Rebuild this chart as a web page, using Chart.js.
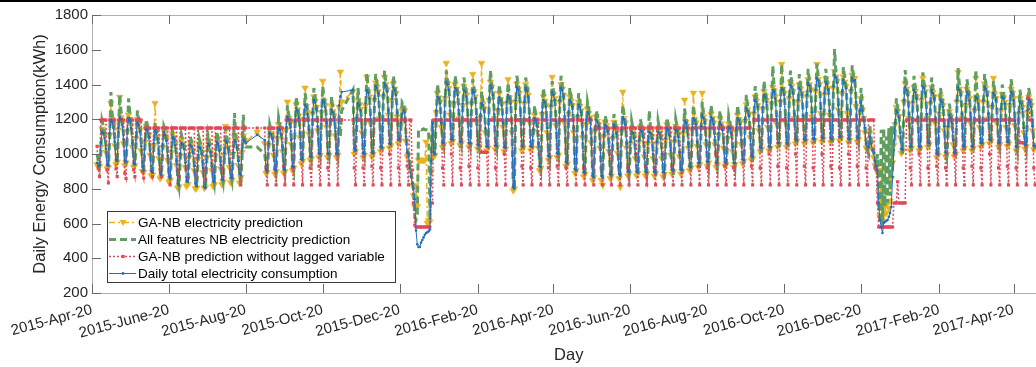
<!DOCTYPE html>
<html>
<head>
<meta charset="utf-8">
<script src="https://cdn.jsdelivr.net/npm/chart.js@4.4.1/dist/chart.umd.min.js"></script>
<style>
  html, body { margin: 0; padding: 0; background: #fff; overflow: hidden; }
  #wrap { width: 1036px; height: 367px; overflow: hidden; }
  canvas { display: block; }
</style>
</head>
<body>
<div id="wrap"><canvas id="chart" width="1050" height="367" style="width:1050px;height:367px"></canvas></div>
<script>
// x = day number counted from 2015-04-20 (a Monday); one row = one week Mon..Sun
const tickDays   = [0, 61, 122, 183, 244, 306, 366, 427, 488, 549, 610, 672, 731];
const tickLabels = ['2015-Apr-20', '2015-June-20', '2015-Aug-20', '2015-Oct-20', '2015-Dec-20',
  '2016-Feb-20', '2016-Apr-20', '2016-Jun-20', '2016-Aug-20', '2016-Oct-20', '2016-Dec-20',
  '2017-Feb-20', '2017-Apr-20'];
const yTickValues = [200, 400, 600, 800, 1000, 1200, 1400, 1600, 1800];
const X_MAX_DAY = 756.3;

const seriesNames = [
  'GA-NB electricity prediction',
  'All features NB electricity prediction',
  'GA-NB prediction without lagged variable',
  'Daily total electricity consumption',
];

// Daily total electricity consumption (kWh)
const actual = [
  null,null,null,null,950,930,937,
  1063,1127,1120,1090,1030,940,932,
  1120,1196,1185,1150,1070,968,960,
  1150,1213,1200,1165,1085,962,955,
  1140,1207,1195,1150,1060,950,942,
  1100,1180,1168,1128,1045,928,905,
  1080,1142,1135,1098,1018,902,892,
  1062,1138,1122,1088,1000,890,880,
  1050,1127,1110,1078,990,870,862,
  1020,1098,1088,1050,960,830,822,
  1000,1063,1055,1030,950,845,839,
  990,1052,1045,1010,930,830,815,
  980,1040,1035,1000,920,810,804,
  990,1060,1050,1010,930,845,839,
  1000,1070,1060,1020,940,855,850,
  1005,1075,1065,1030,950,865,862,
  1010,1080,1070,1035,960,885,880,
  1020,1085,1075,1063,null,null,null,
  null,null,null,null,null,1110,null,
  null,null,null,null,1080,910,900,
  1060,1120,1115,1090,1020,910,905,
  1100,1150,1140,1110,1040,915,908,
  1150,1213,1200,1170,1080,930,925,
  1190,1265,1250,1210,1120,970,966,
  1210,1282,1270,1230,1140,990,983,
  1240,1311,1300,1260,1160,1005,1000,
  1250,1311,1300,1270,1180,1005,1000,
  1200,1253,1240,1210,1130,1005,1000,
  1280,1330,1357,null,null,null,null,
  null,null,null,null,1368,1030,1020,
  1210,1293,1280,1250,1150,1005,1000,
  1290,1368,1355,1320,1200,1010,1006,
  1320,1390,1380,1350,1230,1040,1035,
  1340,1408,1395,1360,1250,1060,1058,
  1320,1386,1370,1340,1240,1085,1080,
  1180,1230,1253,1240,1100,1010,1000,
  920,870,830,800,740,560,480,
  465,465,490,505,520,535,545,
  550,555,565,960,1180,1010,1000,
  1250,1330,1320,1290,1180,1065,1063,
  1330,1414,1400,1370,1250,1085,1080,
  1300,1380,1370,1340,1230,1075,1070,
  1290,1368,1360,1330,1220,1065,1060,
  1300,1368,1355,1320,1210,1055,1050,
  1220,1293,1280,1250,1150,1045,1040,
  1320,1397,1380,1340,1230,1050,1045,
  1260,1328,1310,1280,1180,1040,1035,
  1300,1340,1320,1290,1150,810,804,
  1310,1386,1370,1340,1220,1045,1040,
  1300,1380,1365,1330,1210,1045,1040,
  1140,1207,1195,1160,1060,930,925,
  1240,1311,1300,1270,1150,990,983,
  1280,1357,1340,1310,1190,1005,1000,
  1310,1380,1370,1330,1200,955,948,
  1240,1311,1300,1270,1150,915,908,
  1220,1282,1270,1240,1120,895,891,
  1180,1242,1230,1200,1090,875,868,
  1140,1196,1185,1160,1060,875,868,
  1110,1167,1160,1130,1040,885,880,
  1100,1167,1155,1120,1030,885,880,
  1140,1213,1200,1170,1060,900,897,
  1070,1127,1120,1090,1000,900,895,
  1080,1138,1130,1100,1010,900,895,
  1070,1127,1120,1090,1000,898,893,
  1070,1127,1118,1090,1000,895,891,
  1090,1150,1140,1110,1020,910,905,
  1080,1140,1130,1100,1010,910,908,
  1130,1190,1180,1150,1060,930,925,
  1150,1207,1195,1170,1070,950,948,
  1160,1225,1210,1180,1080,955,954,
  1150,1213,1200,1170,1080,950,948,
  1120,1185,1170,1140,1060,955,948,
  1100,1156,1150,1120,1040,950,948,
  1140,1207,1195,1170,1080,970,966,
  1200,1265,1250,1220,1120,990,983,
  1240,1311,1300,1270,1160,1040,1035,
  1270,1340,1330,1300,1180,1045,1040,
  1300,1368,1360,1320,1200,1065,1063,
  1310,1380,1370,1340,1210,1065,1060,
  1330,1397,1385,1350,1230,1085,1080,
  1310,1380,1370,1340,1220,1085,1080,
  1340,1409,1395,1360,1240,1090,1085,
  1370,1437,1425,1390,1260,1095,1092,
  1350,1414,1400,1370,1250,1090,1085,
  1390,1455,1440,1410,1280,1100,1098,
  1360,1426,1410,1380,1260,1090,1085,
  1370,1437,1420,1426,1300,1095,1090,
  1250,1300,1250,1196,1150,1060,1040,
  1040,1100,1060,1020,1006,960,930,
  908,718,620,580,545,603,610,
  615,620,638,660,695,868,1023,
  1180,1250,1240,1210,1121,1030,1023,
  1310,1386,1370,1340,1230,1045,1040,
  1300,1368,1355,1320,1210,1045,1040,
  1320,1390,1380,1350,1230,1065,1063,
  1300,1368,1350,1320,1200,1005,1000,
  1240,1311,1300,1270,1160,1010,1006,
  1160,1225,1210,1180,1080,1010,1006,
  1310,1386,1370,1340,1230,1045,1040,
  1290,1357,1345,1310,1200,1045,1040,
  1260,1328,1320,1290,1180,1065,1063,
  1310,1386,1375,1340,1230,1085,1080,
  1280,1351,1340,1310,1200,1065,1063,
  1260,1328,1320,1290,1180,1070,1069,
  1290,1357,1345,1310,1190,1045,1040,
  1240,1300,1290,1260,1150,1055,1052,
  1250,1311,1300,1270,1160,1050,1045,
];

// GA-NB electricity prediction (kWh)
const gaNbPred = [
  null,null,null,null,940,925,930,
  1040,1145,1130,1110,1010,915,925,
  1110,1293,1200,1170,1050,940,955,
  1140,1328,1210,1180,1060,935,950,
  1130,1225,1200,1165,1040,925,935,
  1090,1200,1175,1140,1020,900,895,
  1070,1160,1140,1110,995,875,880,
  1050,1293,1130,1100,975,860,870,
  1040,1145,1120,1090,965,840,850,
  1010,1115,1095,1060,935,805,812,
  990,1080,1060,1040,925,815,825,
  980,1070,1050,1020,905,800,805,
  970,1060,1040,1010,895,804,810,
  980,1080,1055,1020,905,815,825,
  990,1090,1065,1030,915,825,840,
  995,1160,1070,1040,925,835,850,
  1000,1100,1075,1045,935,833,865,
  1010,1105,1080,1070,null,null,null,
  null,null,null,null,null,1127,null,
  null,null,null,null,1060,890,895,
  1050,1140,1120,1100,995,885,900,
  1090,1170,1145,1120,1015,890,900,
  1140,1300,1205,1180,1055,905,920,
  1180,1285,1255,1220,1095,945,960,
  1200,1380,1275,1240,1115,965,975,
  1230,1330,1305,1270,1135,980,995,
  1240,1420,1305,1280,1155,980,995,
  1190,1275,1245,1220,1105,980,995,
  1270,1472,1300,null,null,null,null,
  null,null,null,null,1360,1000,1015,
  1200,1310,1285,1260,1125,980,995,
  1280,1443,1360,1330,1175,985,1000,
  1310,1410,1385,1360,1205,1015,1030,
  1330,1443,1400,1370,1225,1035,1050,
  1310,1405,1375,1350,1215,1060,1075,
  1170,1250,1260,1250,1075,985,995,
  950,900,820,760,700,820,700,
  965,965,965,965,965,965,1070,
  603,620,610,900,1100,985,995,
  1240,1350,1325,1300,1155,1040,1055,
  1320,1523,1405,1380,1225,1060,1075,
  1290,1400,1375,1350,1205,1050,1065,
  1280,1390,1365,1340,1195,1040,1055,
  1290,1460,1360,1330,1185,1030,1045,
  1210,1523,1285,1260,1125,1020,1035,
  1310,1415,1385,1350,1205,1025,1040,
  1250,1350,1315,1290,1155,1015,1030,
  1290,1430,1325,1300,1125,790,800,
  1300,1405,1375,1350,1195,1020,1035,
  1290,1400,1370,1340,1185,1020,1035,
  1130,1225,1200,1170,1035,905,920,
  1230,1330,1305,1280,1125,965,980,
  1270,1443,1345,1320,1165,980,995,
  1300,1400,1375,1340,1175,930,945,
  1230,1330,1305,1280,1125,890,905,
  1210,1300,1275,1250,1095,870,885,
  1170,1260,1235,1210,1065,850,865,
  1130,1215,1190,1170,1035,850,822,
  1100,1185,1165,1140,1015,860,875,
  1090,1185,1160,1130,1005,860,810,
  1130,1357,1205,1180,1035,875,890,
  1060,1145,1125,1100,975,875,890,
  1070,1155,1135,1110,985,875,890,
  1060,1145,1125,1100,975,873,888,
  1060,1145,1123,1100,975,870,885,
  1080,1170,1145,1120,995,885,900,
  1070,1160,1135,1110,985,885,900,
  1120,1311,1185,1160,1035,905,920,
  1140,1351,1200,1180,1045,925,940,
  1150,1351,1215,1190,1055,930,950,
  1140,1230,1205,1180,1055,925,940,
  1110,1205,1175,1150,1035,930,940,
  1090,1175,1155,1130,1015,925,940,
  1130,1225,1200,1180,1055,945,960,
  1190,1285,1255,1230,1095,965,975,
  1230,1330,1305,1280,1135,1015,1030,
  1260,1360,1335,1310,1155,1020,1035,
  1290,1385,1365,1330,1175,1040,1055,
  1300,1517,1375,1350,1185,1040,1055,
  1320,1415,1390,1360,1205,1060,1075,
  1300,1400,1375,1350,1195,1060,1075,
  1330,1430,1400,1370,1215,1065,1080,
  1360,1517,1430,1400,1235,1070,1085,
  1340,1435,1405,1380,1225,1065,1080,
  1380,1475,1445,1420,1255,1075,1090,
  1350,1445,1415,1390,1235,1065,1080,
  1360,1455,1425,1436,1275,1070,1085,
  1240,1320,1255,1206,1125,1035,1035,
  1030,1120,1065,1030,980,935,925,
  900,780,640,908,620,650,700,
  660,720,690,730,860,950,1050,
  1170,1270,1245,1220,1096,1005,1020,
  1300,1405,1375,1350,1205,1020,1035,
  1290,1385,1360,1330,1185,1020,1035,
  1310,1437,1385,1360,1205,1040,1055,
  1290,1385,1355,1330,1175,980,995,
  1230,1330,1305,1280,1135,985,1000,
  1150,1245,1215,1190,1055,985,1000,
  1300,1471,1375,1350,1205,1020,1035,
  1280,1375,1350,1320,1175,1020,1035,
  1250,1437,1325,1300,1155,1040,1055,
  1300,1405,1380,1350,1205,1060,1075,
  1270,1437,1345,1320,1175,1040,1055,
  1250,1345,1325,1300,1155,1045,1060,
  1280,1375,1350,1320,1165,1020,1035,
  1230,1320,1295,1270,1125,1030,1045,
  1240,1330,1305,1280,1135,1025,1040,
];

// All features NB electricity prediction (kWh)
const allFeatPred = [
  null,null,null,null,1000,960,930,
  1000,1190,1160,1120,1060,980,925,
  1080,1357,1230,1180,1100,1010,950,
  1120,1340,1250,1190,1110,1000,940,
  1100,1320,1240,1170,1090,990,930,
  1060,1250,1200,1150,1070,960,900,
  1040,1200,1160,1120,1040,930,880,
  1020,1180,1150,1100,1020,920,870,
  1000,1160,1140,1090,1010,900,850,
  980,1130,1110,1070,980,860,815,
  960,1110,1080,1050,970,870,830,
  950,1100,1070,1030,950,860,810,
  940,1090,1060,1020,940,840,800,
  950,1110,1075,1030,950,870,830,
  960,1130,1090,1040,960,880,840,
  970,1150,1100,1050,970,890,850,
  975,1236,1110,1060,980,905,822,
  985,1225,1100,1040,null,null,null,
  null,null,null,null,null,1040,null,
  null,null,null,null,1000,930,890,
  1020,1170,1140,1110,1040,935,895,
  1060,1210,1170,1130,1060,940,900,
  1100,1280,1230,1190,1100,955,915,
  1140,1330,1280,1230,1140,995,955,
  1160,1350,1300,1250,1160,1015,975,
  1190,1380,1330,1280,1180,1030,990,
  1200,1390,1330,1290,1200,1030,990,
  1150,1330,1270,1230,1150,1030,990,
  1230,1100,1250,null,null,null,null,
  null,null,null,null,1370,1060,1010,
  1160,1380,1300,1270,1170,1030,990,
  1240,1466,1380,1340,1220,1040,995,
  1270,1460,1410,1370,1250,1070,1025,
  1290,1480,1420,1380,1270,1090,1045,
  1270,1450,1400,1360,1260,1110,1070,
  1130,1300,1290,1260,1120,1040,990,
  960,900,850,800,640,620,640,
  1140,1145,1140,1140,1145,1140,1140,
  1140,1140,620,980,1200,1040,990,
  1200,1400,1350,1310,1200,1090,1050,
  1280,1480,1430,1390,1270,1110,1065,
  1250,1450,1400,1360,1250,1100,1060,
  1240,1440,1390,1350,1240,1090,1050,
  1250,1430,1385,1340,1230,1080,1040,
  1170,1360,1310,1270,1170,1070,1030,
  1270,1480,1410,1360,1250,1075,1035,
  1210,1400,1340,1300,1200,1065,1025,
  1250,1410,1350,1310,1170,840,790,
  1260,1450,1400,1360,1240,1070,1030,
  1250,1440,1395,1350,1230,1070,1030,
  1090,1280,1225,1180,1080,955,915,
  1190,1380,1330,1290,1170,1015,975,
  1230,1420,1370,1330,1210,1030,990,
  1260,1450,1400,1350,1220,980,935,
  1190,1380,1330,1290,1170,940,895,
  1170,1350,1300,1260,1140,920,880,
  1130,1300,1260,1220,1110,900,855,
  1090,1250,1215,1180,1080,900,855,
  1060,1220,1190,1150,1060,910,865,
  1050,1230,1185,1140,1050,910,865,
  1090,1280,1230,1190,1080,925,880,
  1020,1190,1150,1110,1020,925,880,
  1030,1200,1160,1120,1030,925,880,
  1020,1250,1150,1110,1020,920,870,
  1020,1190,1150,1110,1020,915,860,
  1040,1210,1170,1130,1040,930,880,
  1030,1200,1160,1120,1030,930,885,
  1080,1260,1210,1170,1080,950,900,
  1100,1280,1225,1190,1090,970,920,
  1110,1300,1240,1200,1100,975,930,
  1100,1280,1230,1190,1100,970,925,
  1070,1250,1200,1160,1080,975,925,
  1050,1220,1180,1140,1060,970,925,
  1090,1280,1225,1190,1100,990,940,
  1150,1340,1280,1240,1140,1010,960,
  1190,1390,1330,1290,1180,1060,1010,
  1220,1420,1360,1320,1200,1065,1020,
  1250,1506,1390,1340,1220,1085,1040,
  1260,1517,1400,1360,1230,1085,1040,
  1280,1480,1415,1370,1250,1105,1060,
  1260,1460,1400,1360,1240,1105,1060,
  1290,1490,1425,1380,1260,1110,1065,
  1320,1520,1455,1410,1280,1115,1070,
  1300,1490,1430,1390,1270,1110,1065,
  1340,1604,1470,1430,1300,1120,1075,
  1310,1500,1440,1400,1280,1110,1065,
  1320,1510,1450,1440,1320,1115,1070,
  1200,1380,1280,1220,1170,1080,1020,
  1000,1160,1090,1040,1020,980,910,
  1000,720,600,1140,590,1150,700,
  1100,720,1150,760,1160,900,1167,
  1130,1320,1270,1230,1140,1050,1000,
  1260,1483,1400,1360,1250,1065,1020,
  1250,1450,1385,1340,1230,1065,1020,
  1270,1470,1410,1370,1250,1085,1040,
  1250,1440,1380,1340,1220,1025,980,
  1190,1380,1330,1290,1180,1030,985,
  1110,1290,1240,1200,1100,1030,985,
  1260,1494,1400,1360,1250,1065,1020,
  1240,1430,1375,1330,1220,1065,1020,
  1210,1483,1350,1310,1200,1085,1040,
  1260,1460,1405,1360,1250,1105,1060,
  1230,1420,1370,1330,1220,1085,1040,
  1210,1400,1350,1310,1200,1090,1045,
  1240,1430,1375,1330,1210,1065,1020,
  1190,1370,1320,1280,1170,1075,1030,
  1200,1380,1330,1290,1180,1070,1025,
];

// GA-NB prediction without lagged variable (kWh)
const noLagPred = [
  null,null,null,null,1045,915,870,
  1196,1196,1196,1196,1196,908,833,
  1196,1196,1196,1196,1196,915,870,
  1196,1196,1196,1196,1196,890,860,
  1196,1196,1196,1196,1196,908,870,
  1196,1196,1196,1196,1196,900,862,
  1150,1150,1150,1150,1150,905,870,
  1150,1150,1150,1150,1150,910,868,
  1150,1150,1150,1150,1150,900,822,
  1150,1150,1150,1150,1150,905,870,
  1150,1150,1150,1150,1150,915,865,
  1150,1150,1150,1150,1150,900,860,
  1150,1150,1150,1150,1150,910,855,
  1150,1150,1150,1150,1150,905,870,
  1150,1150,1150,1150,1150,920,868,
  1150,1150,1150,1150,1150,908,862,
  1150,1150,1150,1150,1150,915,822,
  1150,1150,1150,1150,null,null,null,
  null,null,null,null,null,1150,null,
  null,null,null,null,1150,920,822,
  1150,1150,1150,1150,1150,920,822,
  1150,1150,1150,1150,1150,930,822,
  1196,1196,1196,1196,1196,920,822,
  1196,1196,1196,1196,1196,1000,822,
  1196,1196,1196,1196,1196,920,822,
  1196,1196,1196,1196,1196,930,822,
  1196,1196,1196,1196,1196,920,822,
  1196,1196,1196,1196,1196,1000,822,
  1196,1196,1196,null,null,null,null,
  null,null,null,null,1196,920,822,
  1196,1196,1196,1196,1196,920,822,
  1196,1196,1196,1196,1196,930,822,
  1196,1196,1196,1196,1196,920,822,
  1196,1196,1196,1196,1196,1000,822,
  1196,1196,1196,1196,1196,920,822,
  1196,1196,1196,1196,1196,930,822,
  1196,1196,908,718,591,580,580,
  580,580,580,580,580,580,580,
  580,580,580,718,718,1196,1196,
  1196,1196,1196,1196,1196,920,822,
  1196,1196,1196,1196,1196,1000,822,
  1196,1196,1196,1196,1196,920,822,
  1196,1196,1196,1196,1196,930,822,
  1196,1196,1196,1196,1196,920,822,
  1196,1010,1010,1010,1010,1010,822,
  1196,1196,1196,1196,1196,920,822,
  1196,1196,1196,1196,1196,1000,822,
  1196,1196,1196,1196,1196,920,822,
  1196,1196,1196,1196,1196,930,822,
  1196,1196,1196,1196,1196,920,822,
  1196,1196,1196,1196,1196,1000,822,
  1196,1196,1196,1196,1196,920,822,
  1196,1196,1196,1196,1196,930,822,
  1196,1196,1196,1196,1196,920,822,
  1196,1196,1196,1196,1196,1000,822,
  1196,1196,1196,1196,1196,920,822,
  1196,1196,1196,1196,1196,930,822,
  1150,1150,1150,1150,1150,920,822,
  1150,1150,1150,1150,1150,1000,822,
  1150,1150,1150,1150,1150,930,822,
  1150,1150,1150,1150,1150,920,822,
  1150,1150,1150,1150,1150,1000,822,
  1150,1150,1150,1150,1150,930,822,
  1150,1150,1150,1150,1150,920,822,
  1150,1150,1150,1150,1150,1000,822,
  1150,1150,1150,1150,1150,930,822,
  1150,1150,1150,1150,1150,920,822,
  1150,1150,1150,1150,1150,1000,822,
  1150,1150,1150,1150,1150,930,822,
  1150,1150,1150,1150,1150,920,822,
  1150,1150,1150,1150,1150,1000,822,
  1150,1150,1150,1150,1150,930,822,
  1150,1150,1150,1150,1150,920,822,
  1150,1150,1150,1150,1150,1000,822,
  1150,1150,1150,1150,1150,930,822,
  1196,1196,1196,1196,1196,920,822,
  1196,1196,1196,1196,1196,1000,822,
  1196,1196,1196,1196,1196,930,822,
  1196,1196,1196,1196,1196,920,822,
  1196,1196,1196,1196,1196,1000,822,
  1196,1196,1196,1196,1196,930,822,
  1196,1196,1196,1196,1196,920,822,
  1196,1196,1196,1196,1196,1000,822,
  1196,1196,1196,1196,1196,930,822,
  1196,1196,1196,1196,1196,920,822,
  1196,1196,1196,1196,1196,1000,822,
  1196,1196,1196,1196,1196,930,822,
  1196,1196,1196,1196,1196,920,822,
  1196,1196,1196,1196,1196,920,908,
  718,580,580,580,580,580,580,
  580,580,580,580,580,580,718,
  718,718,840,718,718,718,718,
  718,718,1196,1196,1196,920,822,
  1196,1196,1196,1196,1196,1000,822,
  1196,1196,1196,1196,1196,920,822,
  1196,1196,1196,1196,1196,930,822,
  1196,1196,1196,1196,1196,920,822,
  1196,1196,1196,1196,1196,1000,822,
  1196,1196,1196,1196,1196,920,822,
  1196,1196,1196,1196,1196,930,822,
  1196,1196,1196,1196,1196,920,822,
  1196,1196,1196,1196,1196,1000,822,
  1196,1196,1196,1196,1196,920,822,
  1196,1196,1196,1196,1196,930,822,
  1196,1196,1196,1196,1196,920,822,
  1196,1065,1065,1065,1065,1065,822,
  1320,1320,1196,1196,1196,920,822,
];

const YELLOW = '#edb120';
const GREEN  = '#5f9e5f';
const RED    = '#de4a5a';
const BLUE   = '#1f6fc0';
const FONT   = '"Liberation Sans", Arial, Helvetica, sans-serif';
const INK    = '#262626';

const pts = arr => arr.map((v, i) => ({ x: i, y: v }));

function drawMarker(ctx, kind, x, y) {
  ctx.beginPath();
  if (kind === 'tri') {
    ctx.fillStyle = YELLOW;
    ctx.moveTo(x - 3.5, y - 2.5); ctx.lineTo(x + 3.5, y - 2.5); ctx.lineTo(x, y + 3.5);
    ctx.closePath(); ctx.fill();
  } else if (kind === 'sq') {
    ctx.fillStyle = RED;
    ctx.fillRect(x - 1.6, y - 1.6, 3.2, 3.2);
  } else if (kind === 'dot') {
    ctx.fillStyle = BLUE;
    ctx.arc(x, y, 1.4, 0, Math.PI * 2); ctx.fill();
  }
}

const framePlugin = {
  id: 'frame',
  beforeDraw(chart) {
    const ctx = chart.ctx;
    ctx.save();
    ctx.fillStyle = '#fff';
    ctx.fillRect(0, 0, chart.width, chart.height);
    ctx.fillStyle = '#000';
    ctx.fillRect(0, 0, chart.width, 2);
    ctx.restore();
  },
  afterDraw(chart) {
    const { ctx, chartArea: a, scales: { x, y } } = chart;
    ctx.save();
    ctx.strokeStyle = '#b0b0b0';
    ctx.lineWidth = 1;
    ctx.strokeRect(a.left + 0.5, a.top + 0.5, a.right - a.left, a.bottom - a.top);

    ctx.strokeStyle = '#6a6a6a';
    ctx.beginPath();
    tickDays.forEach(d => {
      const px = Math.round(x.getPixelForValue(d)) + 0.5;
      ctx.moveTo(px, a.bottom); ctx.lineTo(px, a.bottom - 9);
      ctx.moveTo(px, a.top);    ctx.lineTo(px, a.top + 9);
    });
    yTickValues.forEach(v => {
      const py = Math.round(y.getPixelForValue(v)) + 0.5;
      ctx.moveTo(a.left, py); ctx.lineTo(a.left + 9, py);
    });
    ctx.stroke();

    // legend box, lower left inside the axes
    const lx = 107, ly = 211, lw = 288, lh = 71;
    ctx.fillStyle = '#fff';
    ctx.fillRect(lx, ly, lw, lh);
    ctx.strokeStyle = '#3a3a3a';
    ctx.strokeRect(lx + 0.5, ly + 0.5, lw, lh);

    const rows = [
      { color: YELLOW, width: 1.5, dash: [6, 3, 2, 3], marker: 'tri' },
      { color: GREEN,  width: 3,   dash: [7, 4],       marker: null },
      { color: RED,    width: 1.5, dash: [2, 2],       marker: 'sq' },
      { color: BLUE,   width: 1,   dash: [],           marker: 'dot' },
    ];
    ctx.font = '13.5px ' + FONT;
    ctx.textBaseline = 'middle';
    rows.forEach((r, i) => {
      const cy = ly + 11.5 + i * 17;
      ctx.strokeStyle = r.color;
      ctx.lineWidth = r.width;
      ctx.setLineDash(r.dash);
      ctx.beginPath(); ctx.moveTo(lx + 2, cy); ctx.lineTo(lx + 29, cy); ctx.stroke();
      ctx.setLineDash([]);
      if (r.marker) drawMarker(ctx, r.marker, lx + 16, cy);
      ctx.fillStyle = '#000';
      ctx.fillText(seriesNames[i], lx + 31, cy + 0.5);
    });
    ctx.restore();
  },
};

new Chart(document.getElementById('chart').getContext('2d'), {
  type: 'line',
  data: {
    datasets: [
      {
        label: seriesNames[0], data: pts(gaNbPred), order: 4,
        borderColor: YELLOW, borderWidth: 1.5, borderDash: [6, 3, 2, 3],
        pointStyle: 'triangle', rotation: 180, pointRadius: 3.8,
        pointBackgroundColor: YELLOW, pointBorderColor: YELLOW, pointBorderWidth: 0.5,
      },
      {
        label: seriesNames[1], data: pts(allFeatPred), order: 3,
        borderColor: GREEN, borderWidth: 3, borderDash: [7, 4], pointRadius: 0,
      },
      {
        label: seriesNames[2], data: pts(noLagPred), order: 2,
        borderColor: RED, borderWidth: 1.5, borderDash: [2, 2],
        pointStyle: 'rect', pointRadius: 2.2,
        pointBackgroundColor: RED, pointBorderWidth: 0,
      },
      {
        label: seriesNames[3], data: pts(actual), order: 1,
        borderColor: BLUE, borderWidth: 1,
        pointStyle: 'circle', pointRadius: 1.3,
        pointBackgroundColor: BLUE, pointBorderWidth: 0,
      },
    ],
  },
  options: {
    responsive: false,
    animation: false,
    spanGaps: true,
    elements: { line: { tension: 0, fill: false } },
    layout: { padding: { top: 15, left: 0, right: 0, bottom: 0 } },
    plugins: { legend: { display: false }, tooltip: { enabled: false } },
    scales: {
      x: {
        type: 'linear',
        min: 0,
        max: X_MAX_DAY,
        grid: { display: false, drawTicks: false },
        border: { display: false },
        afterBuildTicks: (s) => { s.ticks = tickDays.map(v => ({ value: v })); },
        afterFit: (s) => { s.height = 74; s.paddingLeft = 0; s.paddingRight = 0; },
        ticks: {
          autoSkip: false, minRotation: 15, maxRotation: 15, padding: 8,
          color: INK, font: { family: FONT, size: 15 },
          callback: (v) => tickLabels[tickDays.indexOf(v)],
        },
        title: {
          display: true, text: 'Day', color: INK,
          font: { family: FONT, size: 16.5 }, padding: { top: 0, bottom: 2 },
        },
      },
      y: {
        min: 200,
        max: 1800,
        grid: { display: false, drawTicks: false },
        border: { display: false },
        afterBuildTicks: (s) => { s.ticks = yTickValues.map(v => ({ value: v })); },
        afterFit: (s) => { s.width = 92; s.paddingTop = 0; s.paddingBottom = 0; },
        ticks: {
          padding: 4, color: INK, font: { family: FONT, size: 15 },
          callback: (v) => String(v),
        },
        title: {
          display: true, text: 'Daily Energy Consumption(kWh)', color: INK,
          font: { family: FONT, size: 16.5 }, padding: { top: 31, bottom: 0 },
        },
      },
    },
  },
  plugins: [framePlugin],
});
</script>
</body>
</html>
